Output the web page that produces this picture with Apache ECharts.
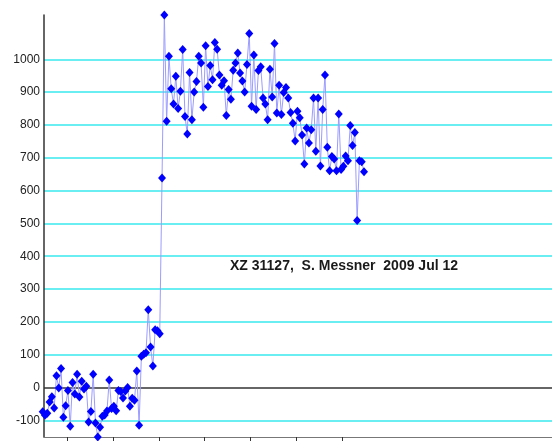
<!DOCTYPE html>
<html>
<head>
<meta charset="utf-8">
<script src="https://cdn.jsdelivr.net/npm/echarts@6/dist/echarts.min.js"></script>
<style>
  html, body { margin: 0; padding: 0; background: #ffffff; }
  #chart { width: 552px; height: 441px; }
</style>
</head>
<body>
<div id="chart"></div>
<script>
// Occultation light curve: one intensity reading per video frame
const intensity = [
  -74, -85, -79, -44, -28, -63, 36, -2, 58, -91,
  -56, -9, -118, 15, -20, 40, -29, 19, -5, 4,
  -105, -73, 40, -108, -151, -121, -88, -84, -72, 23,
  -64, -57, -71, -9, -12, -32, -11, 0, -57, -33,
  -39, 50, -115, 95, 101, 106, 237, 123, 65, 176,
  173, 164, 638, 1135, 811, 1009, 910, 864, 948, 850,
  903, 1030, 826, 772, 960, 816, 900, 932, 1009, 989,
  854, 1041, 917, 981, 938, 1051, 1031, 952, 921, 935,
  829, 908, 878, 967, 989, 1019, 958, 934, 900, 984,
  1079, 857, 1013, 847, 966, 977, 882, 864, 816, 970,
  885, 1048, 836, 921, 832, 899, 914, 882, 838, 805,
  751, 842, 822, 769, 681, 791, 745, 785, 882, 720,
  882, 675, 847, 952, 732, 660, 704, 696, 660, 833,
  664, 674, 705, 691, 798, 737, 777, 509, 691, 688,
  657
];
const frames = intensity.map((v, i) => i);

// Axis marks
const yTickValues = [-100, 0, 100, 200, 300, 400, 500, 600, 700, 800, 900, 1000];
const xTickFrames = [10.6, 30.6, 50.6, 70.6, 90.6, 110.6, 130.6];
const frameRange = [0.57, 221.9];

const caption = 'XZ 31127,  S. Messner  2009 Jul 12';

const chart = echarts.init(document.getElementById('chart'), null, { renderer: 'canvas' });

const option = {
  animation: false,
  backgroundColor: '#ffffff',
  grid: { left: 44, right: 0, top: 15, bottom: 4, containLabel: false },
  xAxis: {
    type: 'value',
    min: frameRange[0],
    max: frameRange[1],
    axisLine: { show: true, onZero: false, lineStyle: { color: '#777777', width: 1 } },
    axisTick: { show: true, length: 6, customValues: xTickFrames, lineStyle: { color: '#333333', width: 1 } },
    axisLabel: { show: false },
    splitLine: { show: false }
  },
  yAxis: {
    type: 'value',
    min: 'dataMin',
    max: 'dataMax',
    axisLine: { show: true, lineStyle: { color: '#333333', width: 1.5 } },
    axisTick: { show: false, customValues: yTickValues },
    axisLabel: {
      customValues: yTickValues,
      formatter: v => String(v),
      color: '#222222',
      fontSize: 12,
      fontFamily: "'Liberation Sans', Arial, sans-serif",
      margin: 4
    },
    splitLine: {
      show: true,
      lineStyle: {
        color: yTickValues.map(v => (v === 0 ? '#333333' : '#3ae9ee')),
        width: 1.5
      }
    }
  },
  series: [{
    type: 'line',
    data: frames.map((f, i) => [f, intensity[i]]),
    symbol: 'diamond',
    symbolSize: [8, 9],
    showAllSymbol: true,
    clip: false,
    z: 3,
    itemStyle: { color: '#0000ff' },
    lineStyle: { color: '#9c9cff', width: 1 }
  }],
  graphic: [{
    type: 'text',
    x: 230,
    y: 266,
    z: 10,
    style: {
      text: caption,
      font: "bold 14px 'Liberation Sans Narrow', 'Liberation Sans', Arial, sans-serif",
      fill: '#1a1a1a',
      align: 'left',
      verticalAlign: 'middle'
    }
  }]
};

chart.setOption(option);
</script>
</body>
</html>
